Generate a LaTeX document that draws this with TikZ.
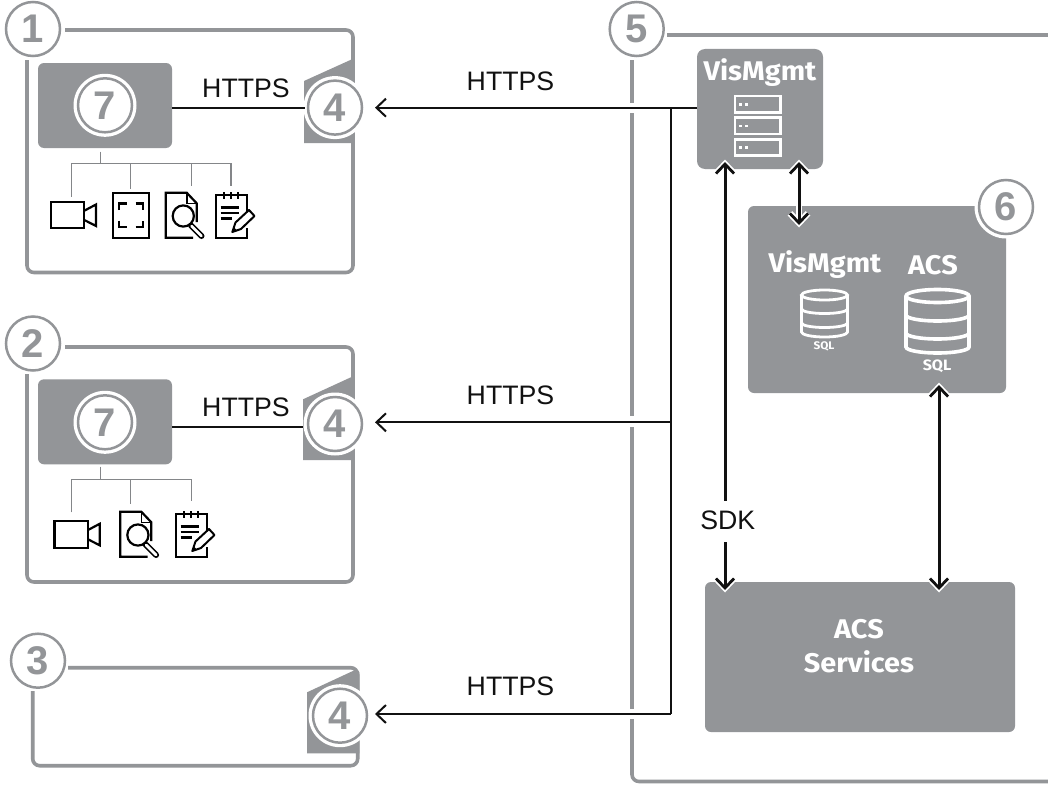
\documentclass[tikz,border=0pt]{standalone}
\usepackage{fontspec}
\setmainfont{Liberation Sans}
\newfontfamily\fira[FakeStretch=1.07]{Fira Sans}
\usetikzlibrary{arrows.meta}
\definecolor{bgray}{HTML}{939598}
\definecolor{ink}{HTML}{111111}
\tikzset{
  x=1pt,y=-1pt,
  barb/.tip={Straight Barb[length=9.5pt,width=18pt,line width=2.8pt]},
  bigbarb/.tip={Straight Barb[length=9.5pt,width=18pt,line width=6.4pt]},
  frameline/.style={draw=bgray,line width=3.6pt,rounded corners=7pt},
  ringnum/.style={circle,draw=bgray,line width=2.5pt,fill=white,minimum size=54pt,inner sep=0pt,text=bgray,font=\fontsize{40}{40}\selectfont\bfseries},
  halo/.style={circle,fill=white,minimum size=63pt,inner sep=0pt},
  graybox/.style={fill=bgray,rounded corners=6pt,inner sep=0pt,outer sep=0pt},
  wtext/.style={text=white,font=\fira\fontsize{27}{27}\selectfont\bfseries,inner sep=0pt},
  sqltext/.style={text=white,inner sep=0pt},
  blabel/.style={text=ink,font=\fontsize{26.7}{26.7}\selectfont,inner sep=0pt},
  conn/.style={draw=ink,line width=2.2pt},
  harr/.style={conn,-{Straight Barb[length=9.5pt,width=18pt,line width=2pt]}},
  varr/.style={draw=ink,line width=3pt,{barb}-{barb},preaction={draw=white,line width=6.4pt,shorten <=-2.5pt,shorten >=-2.5pt,{bigbarb}-{bigbarb}}},
  varrup/.style={draw=ink,line width=3pt,{barb}-,preaction={draw=white,line width=6.4pt,shorten <=-2.5pt,{bigbarb}-}},
  varrdown/.style={draw=ink,line width=3pt,-{barb},preaction={draw=white,line width=6.4pt,shorten >=-2.5pt,-{bigbarb}}},
  tree/.style={draw=bgray!90!black,line width=1.2pt},
  icon/.style={draw=black,line width=2.2pt,line join=miter},
  wicon/.style={draw=white,line width=2.8pt},
  gate/.style={fill=bgray},
}
\newcommand{\camicon}[2]{\begin{scope}[shift={(#1,#2)}]
  \draw[icon] (50.7,201.7) rectangle (84.3,228.3);
  \draw[icon] (84.3,210.7) -- (96,204.5) -- (96,226) -- (84.3,220);
\end{scope}}
\newcommand{\frameicon}[2]{\begin{scope}[shift={(#1,#2)}]
  \draw[icon] (112.7,192.7) rectangle (149,237.7);
  \draw[icon] (119,210) -- (119,203.5) -- (127,203.5);
  \draw[icon] (135.5,203.5) -- (143.3,203.5) -- (143.3,210);
  \draw[icon] (119,220.5) -- (119,227.2) -- (127,227.2);
  \draw[icon] (135.5,227.2) -- (143.3,227.2) -- (143.3,220.5);
\end{scope}}
\newcommand{\magicon}[2]{\begin{scope}[shift={(#1,#2)}]
  \draw[icon] (196.7,222) -- (196.7,203.3) -- (186.7,192.7) -- (165.7,192.7) -- (165.7,237.7) -- (193,237.7);
  \draw[icon,line width=1.4pt] (187,193) -- (187,203.3) -- (196.7,203.3);
  \draw[line width=6pt,black,line cap=round] (191,225.5) -- (201.5,236);
  \draw[line width=2.8pt,white,line cap=round] (191.5,226) -- (201.5,236);
  \draw[icon,fill=white] (183.3,216) circle[radius=10.6];
\end{scope}}
\newcommand{\noteicon}[2]{\begin{scope}[shift={(#1,#2)}]
  \draw[icon] (247.3,215) -- (247.3,195) -- (216,195) -- (216,237.7) -- (247.3,237.7) -- (247.3,228);
  \foreach \tx in {224,231,238.3} \draw[icon] (\tx,192.2) -- (\tx,198.5);
  \draw[black,line width=2.4pt] (220.7,207.3) -- (239.3,207.3) (220.7,212.8) -- (239.3,212.8) (220.7,218.3) -- (231.7,218.3);
  \draw[icon,fill=white,line width=2pt,line join=round] (232.3,232) -- (235.5,222.5) -- (249,210) -- (254.5,216) -- (241,229) -- cycle;
  \fill[black] (232.3,232) -- (233.8,227.3) -- (237,230.5) -- cycle;
\end{scope}}
\begin{document}
\begin{tikzpicture}
\useasboundingbox (0,0) rectangle (1048,784);
\fill[white] (0,0) rectangle (1048,784);

% --- frames
\draw[frameline] (65,30) -- (353,30) -- (353,272.5) -- (27,272.5) -- (27,60);
\draw[frameline] (65,347) -- (353,347) -- (353,582) -- (27,582) -- (27,374);
\draw[frameline] (68,667.7) -- (357.7,667.7) -- (357.7,765.7) -- (32.7,765.7) -- (32.7,691);
\draw[frameline,rounded corners=0pt] (632,60) -- (632,103);
\draw[frameline,rounded corners=0pt] (632,113) -- (632,416);
\draw[frameline,rounded corners=0pt] (632,427) -- (632,709);
\draw[frameline] (632,719) -- (632,781.5) -- (1048,781.5);
\draw[frameline,rounded corners=0pt] (667,35) -- (1048,35);

% --- gate shapes
\fill[gate] (304,81) -- (354.8,58) -- (354.8,143) -- (304,143) -- cycle;
\fill[gate] (303,399.3) -- (354.8,375.5) -- (354.8,460) -- (303,460) -- cycle;
\fill[gate] (307,692.3) -- (355,670) -- (359.4,672) -- (359.4,753.3) -- (307,753.3) -- cycle;

% --- gray boxes
\node[graybox,minimum width=134pt,minimum height=85pt,anchor=north west] (c1) at (38,63) {};
\node[graybox,minimum width=134pt,minimum height=85pt,anchor=north west] (c2) at (38,379.3) {};
\node[graybox,rounded corners=8pt,minimum width=126pt,minimum height=120pt,anchor=north west] (vm) at (697,49) {};
\node[graybox,minimum width=258pt,minimum height=187pt,anchor=north west] (db) at (748,206) {};
\node[graybox,minimum width=310pt,minimum height=150pt,anchor=north west] (svc) at (705,582) {};

% --- named points on the bus
\coordinate (j1) at (670.6,107.7);
\coordinate (j2) at (670.6,422.3);
\coordinate (j3) at (670.6,714);
\coordinate (sdkA) at (725,501);
\coordinate (sdkB) at (725,542);

% --- circles
\node[halo] at (335,107.6) {};
\node[halo] at (335,424) {};
\node[halo] at (340,715.7) {};
\node[halo] at (1006,207) {};
\node[ringnum] (n1) at (33,29) {1};
\node[ringnum] (n2) at (33,343.5) {2};
\node[ringnum] (n3) at (38,660.7) {3};
\node[ringnum] (n5) at (636.7,29) {5};
\node[ringnum] (n41) at (335,107.6) {4};
\node[ringnum] (n42) at (335,424) {4};
\node[ringnum] (n43) at (340,715.7) {4};
\node[ringnum] (n6) at (1006,207) {6};
\node[halo] at (105,105.3) {};
\node[halo] at (105,422.3) {};
\node[ringnum] (n71) at (105,105.3) {7};
\node[ringnum] (n72) at (105,422.3) {7};

% --- connectors
\draw[conn] (c1.east |- n41.center) -- ([xshift=-30pt]n41.center);
\draw[conn] (172,427.3) -- (303,427.3);
\draw[conn] (vm.west |- j1) -- (j1);
\draw[conn] (j1) -- (j3);
\draw[harr] (j1) -- (375,107.7);
\draw[harr] (j2) -- (375,422.3);
\draw[harr] (j3) -- (375,714);
\draw[varrup] (725,162) -- (sdkA);
\draw[varrdown] (sdkB) -- (725,590);
\draw[varr] (799,162) -- (799,225);
\draw[varr] (939,385) -- (939,590);

% --- labels
\node[blabel] at (246,88.5) {HTTPS};
\node[blabel] at (246,407) {HTTPS};
\node[blabel] at (510.5,81) {HTTPS};
\node[blabel] at (510.5,395) {HTTPS};
\node[blabel] at (510.5,686) {HTTPS};
\node[blabel] at (727.8,520.5) {SDK};
\node[wtext] at (760,73) {VisMgmt};
\node[wtext] at (825,265) {VisMgmt};
\node[wtext] at (933,265) {ACS};
\node[wtext] at (859,629) {ACS};
\node[wtext] at (859,662) {Services};
\node[sqltext,font=\fira\fontsize{11}{11}\selectfont\bfseries] at (824,346) {SQL};
\node[sqltext,font=\fira\fontsize{15}{15}\selectfont\bfseries] at (937,366) {SQL};

% --- trees
\draw[tree] (100.3,151.7) -- (100.3,163.5);
\draw[tree] (71.3,196.7) -- (71.3,163.5) -- (231,163.5) -- (231,185.7);
\draw[tree] (130.7,163.5) -- (130.7,188.7);
\draw[tree] (191.3,163.5) -- (191.3,185.7);
\draw[tree] (100.3,466.7) -- (100.3,479.3);
\draw[tree] (71.3,512.3) -- (71.3,479.3) -- (191.3,479.3) -- (191.3,501);
\draw[tree] (130.7,479.3) -- (130.7,504);

% --- icons
\camicon{0}{0}
\frameicon{0}{0}
\magicon{0}{0}
\noteicon{0}{0}
\camicon{3.7}{319.3}
\magicon{-45.4}{319}
\noteicon{-40}{319}

% --- server icon
\foreach \ya/\yb in {96/112.7,117.7/134,139.3/155.7}{
  \draw[wicon] (735,\ya) rectangle (780.7,\yb);
  \fill[white] (739,{(\ya+\yb)/2-1.3}) rectangle (741.8,{(\ya+\yb)/2+1.3});
  \fill[white] (745,{(\ya+\yb)/2-1.3}) rectangle (747.8,{(\ya+\yb)/2+1.3});
}
% --- databases
\draw[wicon] (801.5,295) -- (801.5,332) arc[start angle=180,end angle=360,x radius=23pt,y radius=5pt]
  -- (847.5,295);
\draw[wicon] (824.5,295) ellipse[x radius=23,y radius=5];
\draw[wicon] (801.5,309) arc[start angle=180,end angle=360,x radius=23pt,y radius=4.5pt];
\draw[wicon] (801.5,323) arc[start angle=180,end angle=360,x radius=23pt,y radius=4.5pt];
\draw[wicon,line width=3.6pt] (906,296) -- (906,347) arc[start angle=180,end angle=360,x radius=31.5pt,y radius=6pt]
  -- (969,296);
\draw[wicon,line width=3.6pt] (937.5,296) ellipse[x radius=31.5,y radius=6.5];
\draw[wicon,line width=3.6pt] (906,315) arc[start angle=180,end angle=360,x radius=31.5pt,y radius=6pt];
\draw[wicon,line width=3.6pt] (906,333) arc[start angle=180,end angle=360,x radius=31.5pt,y radius=6pt];
\end{tikzpicture}
\end{document}
